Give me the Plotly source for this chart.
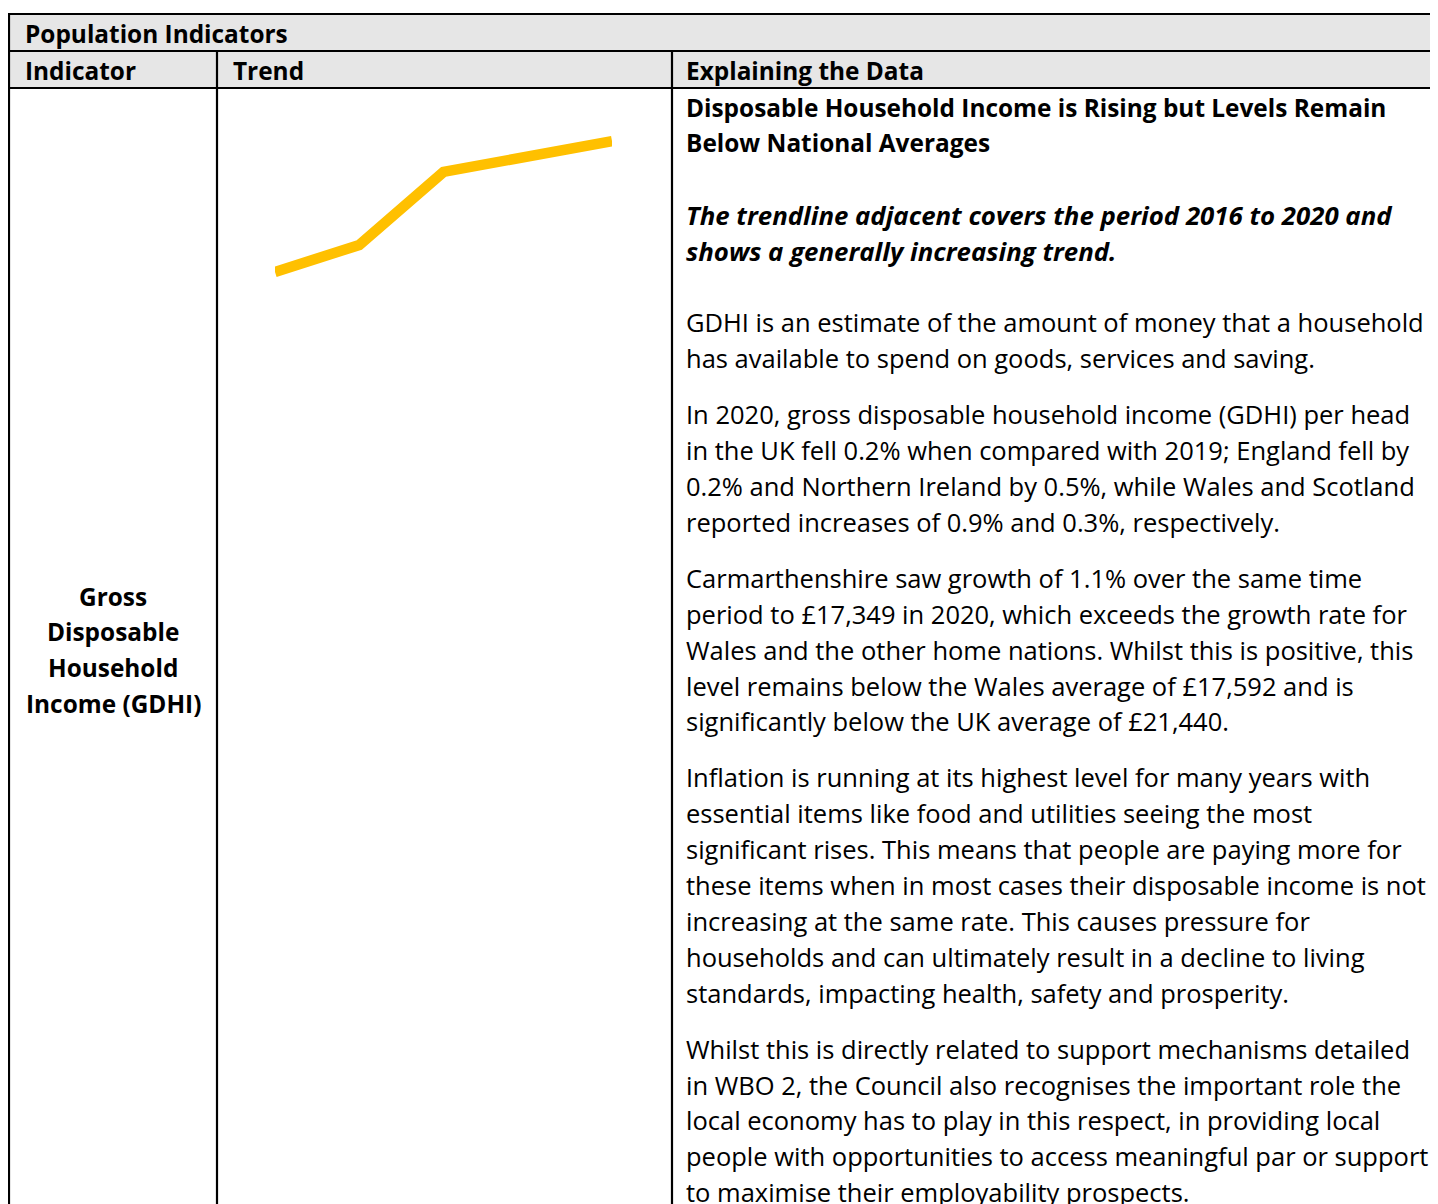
import plotly.graph_objects as go

# ---------------- data ----------------
years = [2016, 2017, 2018, 2019, 2020]
gdhi_per_head = [15700, 16040, 16960, 17160, 17349]

table_title = "Population Indicators"
column_headers = ["Indicator", "Trend", "Explaining the Data"]
indicator_lines = ["Gross", "Disposable", "Household", "Income (GDHI)"]
heading_lines = ["Disposable Household Income is Rising but Levels Remain",
                 "Below National Averages"]
italic_lines = ["The trendline adjacent covers the period 2016 to 2020 and",
                "shows a generally increasing trend."]
paragraphs = [
    ["GDHI is an estimate of the amount of money that a household",
     "has available to spend on goods, services and saving."],
    ["In 2020, gross disposable household income (GDHI) per head",
     "in the UK fell 0.2% when compared with 2019; England fell by",
     "0.2% and Northern Ireland by 0.5%, while Wales and Scotland",
     "reported increases of 0.9% and 0.3%, respectively."],
    ["Carmarthenshire saw growth of 1.1% over the same time",
     "period to £17,349 in 2020, which exceeds the growth rate for",
     "Wales and the other home nations. Whilst this is positive, this",
     "level remains below the Wales average of £17,592 and is",
     "significantly below the UK average of £21,440."],
    ["Inflation is running at its highest level for many years with",
     "essential items like food and utilities seeing the most",
     "significant rises. This means that people are paying more for",
     "these items when in most cases their disposable income is not",
     "increasing at the same rate. This causes pressure for",
     "households and can ultimately result in a decline to living",
     "standards, impacting health, safety and prosperity."],
    ["Whilst this is directly related to support mechanisms detailed",
     "in WBO 2, the Council also recognises the important role the",
     "local economy has to play in this respect, in providing local",
     "people with opportunities to access meaningful par or support",
     "to maximise their employability prospects."],
]

# ---------------- layout constants ----------------
W, H = 1438, 1204
OFF = 8            # page body margin compensation
FONT = "Open Sans"
FS_REG = 25.5
FS_BOLD = 24.4
FS_BI = 25.8
TXT = "#000000"
LINE = 35.9
PARA_GAP = 20
X_LEFT, X_COL1, X_COL2 = 9, 217, 672
Y_TOP, Y_ROW1, Y_ROW2 = 14, 51, 88
X_TEXT = 684
GRAY = "#E6E6E6"

fig = go.Figure()

# trend line in the Trend cell
fig.add_trace(go.Scatter(
    x=years, y=gdhi_per_head, mode="lines",
    line=dict(color="#FFC000", width=10.5),
    xaxis="x2", yaxis="y2", hoverinfo="skip", showlegend=False,
))

shapes = []
shapes.append(dict(type="rect", xref="x", yref="y", x0=X_LEFT, x1=W + 20, y0=Y_TOP, y1=Y_ROW2,
                   fillcolor=GRAY, line=dict(width=0), layer="below"))
for yy in (Y_TOP, Y_ROW1, Y_ROW2):
    shapes.append(dict(type="line", xref="x", yref="y", x0=X_LEFT - 1, x1=W + 20, y0=yy, y1=yy,
                       line=dict(color="black", width=2.2)))
shapes.append(dict(type="line", xref="x", yref="y", x0=X_LEFT, x1=X_LEFT, y0=Y_TOP - 1, y1=H + 20,
                   line=dict(color="black", width=2.2)))
for xx in (X_COL1, X_COL2):
    shapes.append(dict(type="line", xref="x", yref="y", x0=xx, x1=xx, y0=Y_ROW1, y1=H + 20,
                       line=dict(color="black", width=2.2)))

ann = []


def txt(x, y, s, bold=False, italic=False, anchor="left"):
    t = s
    size = FS_REG
    if bold:
        t = "<b>" + t + "</b>"
        size = FS_BOLD
    if italic:
        t = "<i>" + t + "</i>"
        size = FS_BI
    ann.append(dict(x=x, y=y, xref="x", yref="y", text=t, showarrow=False,
                    xanchor=anchor, yanchor="middle",
                    font=dict(family=FONT, size=size, color=TXT)))


txt(23, 33, table_title, bold=True)
txt(23, 70, column_headers[0], bold=True)
txt(231, 70, column_headers[1], bold=True)
txt(X_TEXT, 70, column_headers[2], bold=True)

for i, s in enumerate(indicator_lines):
    txt(113, 596 + LINE * i, s, bold=True, anchor="center")

y = 107
for s in heading_lines:
    txt(X_TEXT, y, s, bold=True)
    y += LINE
y += LINE
for s in italic_lines:
    txt(X_TEXT, y, s, bold=True, italic=True)
    y += LINE
y += LINE
for k, para in enumerate(paragraphs):
    if k > 0:
        y += PARA_GAP
    for s in para:
        txt(X_TEXT, y, s)
        y += LINE

fig.update_layout(
    width=W, height=H,
    margin=dict(l=0, r=0, t=0, b=0),
    paper_bgcolor="white", plot_bgcolor="rgba(0,0,0,0)",
    xaxis=dict(range=[OFF, W + OFF], domain=[0, 1], visible=False, fixedrange=True),
    yaxis=dict(range=[H + OFF, OFF], domain=[0, 1], visible=False, fixedrange=True),
    xaxis2=dict(domain=[(275 - OFF) / W, (612 - OFF) / W], range=[2016, 2020], visible=False,
                anchor="y2", fixedrange=True),
    yaxis2=dict(domain=[1 - (290 - OFF) / H, 1 - (130 - OFF) / H], range=[15473, 17488],
                visible=False, anchor="x2", fixedrange=True),
    shapes=shapes, annotations=ann, showlegend=False,
)

fig.write_html("out.html")
